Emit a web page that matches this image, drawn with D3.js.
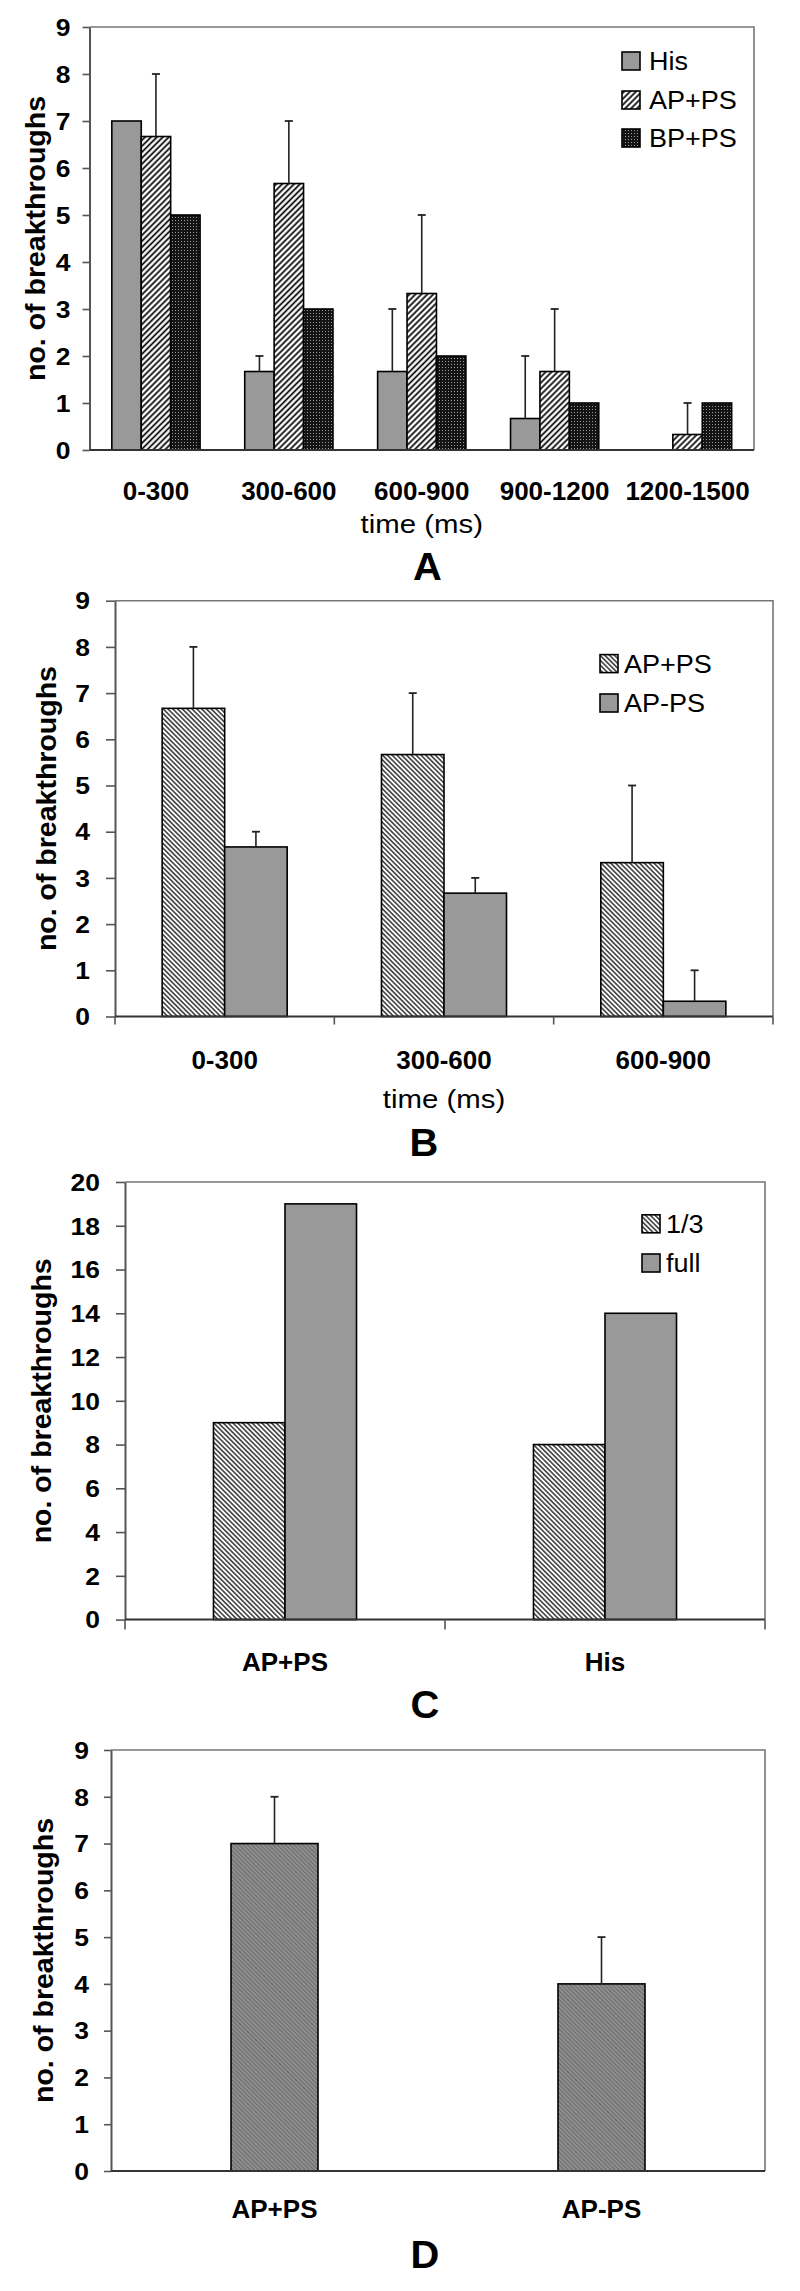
<!DOCTYPE html>
<html><head><meta charset="utf-8">
<script src="https://cdn.jsdelivr.net/npm/d3@7"></script>
<style>
body{margin:0;background:#fff}
svg{display:block}
text{font-family:"Liberation Sans",Arial,sans-serif;fill:#000}
</style>
</head><body>
<svg id="chart" width="800" height="2291"></svg>
<script>
// ---------- DATA ----------
// Panel A
const aCategories = ["0-300","300-600","600-900","900-1200","1200-1500"];
const aSeriesNames = ["His","AP+PS","BP+PS"];
const aHis = [7, 1.67, 1.67, 0.67, 0];
const aAPPS = [6.67, 5.67, 3.33, 1.67, 0.33];
const aBPPS = [5, 3, 2, 1, 1];
const aHisErrTop = [null, 2, 3, 2, null];
const aAPPSErrTop = [8, 7, 5, 3, 1];
const aBPPSErrTop = [null, null, null, null, null];
const aTicks = [0,1,2,3,4,5,6,7,8,9];
// Panel B
const bCategories = ["0-300","300-600","600-900"];
const bSeriesNames = ["AP+PS","AP-PS"];
const bAPPS = [6.67, 5.67, 3.33];
const bAPMS = [3.67, 2.67, 0.33];
const bAPPSErrTop = [8, 7, 5];
const bAPMSErrTop = [4, 3, 1];
const bTicks = [0,1,2,3,4,5,6,7,8,9];
// Panel C
const cCategories = ["AP+PS","His"];
const cSeriesNames = ["1/3","full"];
const cThird = [9, 8];
const cFull = [19, 14];
const cTicks = [0,2,4,6,8,10,12,14,16,18,20];
// Panel D
const dCategories = ["AP+PS","AP-PS"];
const dValues = [7, 4];
const dErrTop = [8, 5];
const dTicks = [0,1,2,3,4,5,6,7,8,9];

const yTitle = "no. of breakthroughs";
const xTitle = "time (ms)";

// ---------- DRAWING ----------
const svg = d3.select("#chart");
const defs = svg.append("defs");

function hatch(id, angle, spacing, lw, bg, fg){
  const p = defs.append("pattern").attr("id", id).attr("patternUnits","userSpaceOnUse")
    .attr("width", spacing).attr("height", spacing)
    .attr("patternTransform", `rotate(${angle})`);
  p.append("rect").attr("width", spacing).attr("height", spacing).attr("fill", bg);
  p.append("line").attr("x1", spacing/2).attr("x2", spacing/2).attr("y1", -1).attr("y2", spacing+1)
    .attr("stroke", fg).attr("stroke-width", lw);
}
hatch("hatchA", 45, 4.2, 1.7, "#fff", "#000");
hatch("hatchBC", -45, 3.4, 1.2, "#fff", "#000");
hatch("hatchD", -45, 3, 1, "#8f8f8f", "#6a6a6a");
const dp = defs.append("pattern").attr("id","dots").attr("patternUnits","userSpaceOnUse")
  .attr("width",3).attr("height",3);
dp.append("rect").attr("width",3).attr("height",3).attr("fill","#141414");
dp.append("rect").attr("x",1).attr("y",1).attr("width",1).attr("height",1).attr("fill","#9a9a9a");

function stretch(sel, k){
  sel.each(function(){
    const L = this.getComputedTextLength();
    d3.select(this).attr("textLength", L*k).attr("lengthAdjust","spacingAndGlyphs");
  });
}

function drawPanel(cfg){
  const g = svg.append("g");
  const y = d3.scaleLinear().domain([0, cfg.yMax]).range([cfg.yBottom, cfg.yTop]);
  const x0 = d3.scaleBand().domain(cfg.categories).range([cfg.left, cfg.right]).padding(0);
  const bw = x0.bandwidth();
  const names = cfg.series.map(s => s.name);
  const x1 = d3.scaleBand().domain(names)
    .range([bw*(1-cfg.groupFrac)/2, bw*(1+cfg.groupFrac)/2]).padding(0);

  // frame (top & right)
  g.append("path")
    .attr("d", `M${cfg.left},${y(cfg.yMax)}H${cfg.right}V${y(0)}`)
    .attr("fill","none").attr("stroke","#777").attr("stroke-width",1.6);

  // bars
  cfg.series.forEach(s => {
    g.append("g").selectAll("rect").data(cfg.categories).join("rect")
      .attr("x", (c) => x0(c) + x1(s.name))
      .attr("width", x1.bandwidth())
      .attr("y", (c,i) => y(s.values[i]))
      .attr("height", (c,i) => y(0) - y(s.values[i]))
      .attr("fill", s.fill)
      .attr("stroke", (c,i) => s.values[i] > 0 ? "#000" : "none")
      .attr("stroke-width", 1.6);
  });
  // error bars
  cfg.series.forEach(s => {
    if(!s.err) return;
    cfg.categories.forEach((c,i) => {
      if(s.err[i] == null) return;
      const cx = x0(c) + x1(s.name) + x1.bandwidth()/2;
      g.append("line").attr("x1",cx).attr("x2",cx).attr("y1",y(s.values[i])).attr("y2",y(s.err[i]))
        .attr("stroke","#222").attr("stroke-width",1.6);
      g.append("line").attr("x1",cx-4).attr("x2",cx+4).attr("y1",y(s.err[i])).attr("y2",y(s.err[i]))
        .attr("stroke","#222").attr("stroke-width",1.8);
    });
  });

  // left axis
  const ya = g.append("g").attr("transform", `translate(${cfg.left},0)`)
    .call(d3.axisLeft(y).tickValues(cfg.ticks).tickSize(cfg.tickLen).tickPadding(cfg.tickPad).tickSizeOuter(0));
  ya.select(".domain").attr("stroke","#555").attr("stroke-width",2);
  ya.selectAll(".tick line").attr("stroke","#555").attr("stroke-width",1.6);
  ya.selectAll(".tick text").attr("font-size",23).attr("font-weight","bold")
    .attr("font-family","Liberation Sans, Arial, sans-serif").attr("fill","#000").attr("dy","0.36em");
  stretch(ya.selectAll(".tick text"), 1.15);

  // bottom axis
  g.append("line").attr("x1", cfg.left).attr("x2", cfg.right).attr("y1", y(0)).attr("y2", y(0))
    .attr("stroke","#333").attr("stroke-width",2);
  if(cfg.xTickLen){
    const bounds = cfg.categories.map(c => x0(c)).concat([x0(cfg.categories[cfg.categories.length-1]) + bw]);
    g.append("g").selectAll("line").data(bounds).join("line")
      .attr("x1", d => d).attr("x2", d => d).attr("y1", y(0)).attr("y2", y(0)+cfg.xTickLen)
      .attr("stroke","#555").attr("stroke-width",1.6);
  }
  // category labels
  g.append("g").selectAll("text").data(cfg.categories).join("text")
    .attr("x", c => x0(c) + bw/2).attr("y", cfg.catBaseline)
    .attr("text-anchor","middle").attr("font-size", 26).attr("font-weight","bold")
    .text(c => c);

  // x title
  if(cfg.xTitle){
    const t = g.append("text").attr("x", (cfg.left+cfg.right)/2).attr("y", cfg.xTitleBaseline)
      .attr("text-anchor","middle").attr("font-size",26).text(cfg.xTitle);
    stretch(t, 1.13);
  }
  // panel letter
  const L = g.append("text").attr("x", cfg.letterX).attr("y", cfg.letterBaseline)
    .attr("text-anchor","middle").attr("font-size",38).attr("font-weight","bold").text(cfg.letter);
  stretch(L, 1.05);

  // y title
  g.append("text")
    .attr("transform", `translate(${cfg.yTitleX},${(cfg.yTop+cfg.yBottom)/2}) rotate(-90)`)
    .attr("dy","0.26em").attr("text-anchor","middle")
    .attr("font-size",28.5).attr("font-weight","bold").text(yTitle);

  // legend
  if(cfg.legend){
    const lg = cfg.legend;
    cfg.series.forEach((s,i) => {
      const cy = lg.ys[i];
      g.append("rect").attr("x", lg.boxX).attr("y", cy-9).attr("width",18).attr("height",18)
        .attr("fill", s.legendFill || s.fill).attr("stroke","#000").attr("stroke-width",1.6);
      const t = g.append("text").attr("x", lg.textX).attr("y", cy).attr("dy","0.36em")
        .attr("font-size",25).text(s.name);
      stretch(t, 1.08);
    });
  }
}

drawPanel({
  left: 89.5, right: 754, yTop: 27, yBottom: 450, yMax: 9, ticks: aTicks,
  tickLen: 7, tickPad: 12, groupFrac: 0.664, xTickLen: 0,
  categories: aCategories,
  series: [
    {name: aSeriesNames[0], values: aHis, err: aHisErrTop, fill: "#999"},
    {name: aSeriesNames[1], values: aAPPS, err: aAPPSErrTop, fill: "url(#hatchA)"},
    {name: aSeriesNames[2], values: aBPPS, err: aBPPSErrTop, fill: "url(#dots)"}
  ],
  catBaseline: 500,
  xTitle: xTitle, xTitleBaseline: 533,
  letter: "A", letterX: 427.5, letterBaseline: 580,
  yTitleX: 38,
  legend: {boxX: 622, ys: [61, 100, 138], textX: 649}
});

drawPanel({
  left: 115, right: 773, yTop: 600.7, yBottom: 1016.5, yMax: 9, ticks: bTicks,
  tickLen: 9, tickPad: 16, groupFrac: 0.57, xTickLen: 8,
  categories: bCategories,
  series: [
    {name: bSeriesNames[0], values: bAPPS, err: bAPPSErrTop, fill: "url(#hatchBC)"},
    {name: bSeriesNames[1], values: bAPMS, err: bAPMSErrTop, fill: "#999"}
  ],
  catBaseline: 1069,
  xTitle: xTitle, xTitleBaseline: 1107.5,
  letter: "B", letterX: 424, letterBaseline: 1156,
  yTitleX: 48.5,
  legend: {boxX: 600, ys: [663.6, 703], textX: 624}
});

drawPanel({
  left: 125, right: 765, yTop: 1182, yBottom: 1619.6, yMax: 20, ticks: cTicks,
  tickLen: 9, tickPad: 16, groupFrac: 0.447, xTickLen: 10,
  categories: cCategories,
  series: [
    {name: cSeriesNames[0], values: cThird, err: null, fill: "url(#hatchBC)"},
    {name: cSeriesNames[1], values: cFull, err: null, fill: "#999"}
  ],
  catBaseline: 1670.5,
  xTitle: null,
  letter: "C", letterX: 425, letterBaseline: 1717.5,
  yTitleX: 43.5,
  legend: {boxX: 642, ys: [1223.8, 1263], textX: 666}
});

drawPanel({
  left: 111, right: 765, yTop: 1750, yBottom: 2171, yMax: 9, ticks: dTicks,
  tickLen: 7, tickPad: 15, groupFrac: 0.266, xTickLen: 0,
  categories: dCategories,
  series: [
    {name: "value", values: dValues, err: dErrTop, fill: "url(#hatchD)"}
  ],
  catBaseline: 2218,
  xTitle: null,
  letter: "D", letterX: 425, letterBaseline: 2268,
  yTitleX: 46,
  legend: null
});
</script>
</body></html>
